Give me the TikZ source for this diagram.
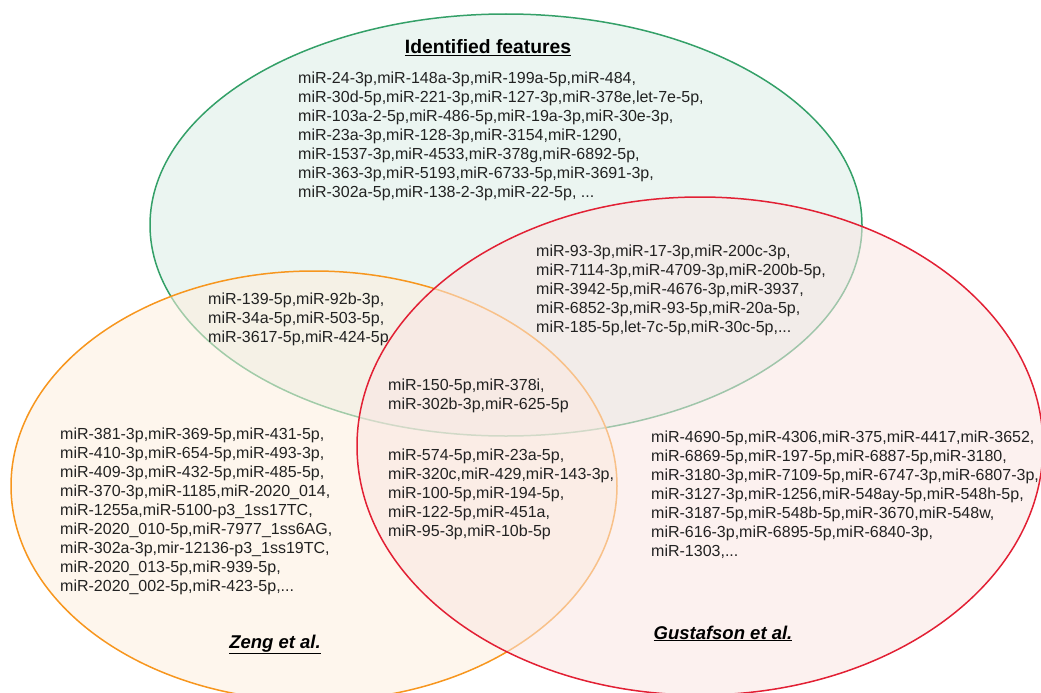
\documentclass[tikz,border=0pt]{standalone}
\usepackage{fontspec}
\setmainfont{Liberation Sans}
\definecolor{vngreen}{RGB}{52,160,104}
\definecolor{vnorange}{RGB}{247,150,30}
\definecolor{vnred}{RGB}{226,32,52}
\definecolor{vngreenfill}{RGB}{218,237,230}
\definecolor{vnorangefill}{RGB}{253,239,222}
\definecolor{vnredfill}{RGB}{249,229,226}
\definecolor{vntext}{RGB}{34,34,34}
\usetikzlibrary{positioning}
\tikzset{
  setfill/.style 2 args={fill=#2, fill opacity=0.55, draw=#1, line width=1.5pt},
  mirlist/.style={font=\fontsize{16}{19}\selectfont, text=vntext, align=left, anchor=north west, inner sep=0pt},
  setlabel/.style={font=\fontsize{18.5}{22}\selectfont\bfseries\itshape, text=black, inner sep=0pt, anchor=base}
}

\begin{document}
\begin{tikzpicture}[x=1pt,y=-1pt]
  \useasboundingbox (0,0) rectangle (1041,693);
  % Identified features
  \filldraw[setfill={vngreen}{vngreenfill}] (506,225) ellipse [x radius=356, y radius=211];
  % Zeng et al.
  \filldraw[setfill={vnorange}{vnorangefill}] (314,486) ellipse [x radius=303, y radius=215];
  % Gustafson et al.
  \filldraw[setfill={vnred}{vnredfill}] (700,446) ellipse [x radius=343, y radius=249];
  % Set titles
  \node[setlabel, font=\fontsize{19.3}{23}\selectfont\bfseries] (idtitle) at (488,54) {\underline{Identified features}};
  \node[setlabel] (zenglabel) at (275,648) {\underline{Zeng et al.}};
  \node[setlabel] (gustlabel) at (723,639) {\underline{Gustafson et al.}};
  % Identified only
  \node[mirlist] (idonly) at (298,72) {miR-24-3p,miR-148a-3p,miR-199a-5p,miR-484,\\
    miR-30d-5p,miR-221-3p,miR-127-3p,miR-378e,let-7e-5p,\\
    miR-103a-2-5p,miR-486-5p,miR-19a-3p,miR-30e-3p,\\
    miR-23a-3p,miR-128-3p,miR-3154,miR-1290,\\
    miR-1537-3p,miR-4533,miR-378g,miR-6892-5p,\\
    miR-363-3p,miR-5193,miR-6733-5p,miR-3691-3p,\\
    miR-302a-5p,miR-138-2-3p,miR-22-5p, ...};
  % Identified and Gustafson
  \node[mirlist] (idgust) at (536,245) {miR-93-3p,miR-17-3p,miR-200c-3p,\\
    miR-7114-3p,miR-4709-3p,miR-200b-5p,\\
    miR-3942-5p,miR-4676-3p,miR-3937,\\
    miR-6852-3p,miR-93-5p,miR-20a-5p,\\
    miR-185-5p,let-7c-5p,miR-30c-5p,...};
  % Identified and Zeng
  \node[mirlist] (idzeng) at (208,293) {miR-139-5p,miR-92b-3p,\\
    miR-34a-5p,miR-503-5p,\\
    miR-3617-5p,miR-424-5p};
  % All three
  \node[mirlist] (allthree) at (388,379) {miR-150-5p,miR-378i,\\
    miR-302b-3p,miR-625-5p};
  % Zeng and Gustafson
  \node[mirlist] (zenggust) at (388,449) {miR-574-5p,miR-23a-5p,\\
    miR-320c,miR-429,miR-143-3p,\\
    miR-100-5p,miR-194-5p,\\
    miR-122-5p,miR-451a,\\
    miR-95-3p,miR-10b-5p};
  % Zeng only
  \node[mirlist] (zengonly) at (60,428) {miR-381-3p,miR-369-5p,miR-431-5p,\\
    miR-410-3p,miR-654-5p,miR-493-3p,\\
    miR-409-3p,miR-432-5p,miR-485-5p,\\
    miR-370-3p,miR-1185,miR-2020\_014,\\
    miR-1255a,miR-5100-p3\_1ss17TC,\\
    miR-2020\_010-5p,miR-7977\_1ss6AG,\\
    miR-302a-3p,mir-12136-p3\_1ss19TC,\\
    miR-2020\_013-5p,miR-939-5p,\\
    miR-2020\_002-5p,miR-423-5p,...};
  % Gustafson only
  \node[mirlist] (gustonly) at (651,431) {miR-4690-5p,miR-4306,miR-375,miR-4417,miR-3652,\\
    miR-6869-5p,miR-197-5p,miR-6887-5p,miR-3180,\\
    miR-3180-3p,miR-7109-5p,miR-6747-3p,miR-6807-3p,\\
    miR-3127-3p,miR-1256,miR-548ay-5p,miR-548h-5p,\\
    miR-3187-5p,miR-548b-5p,miR-3670,miR-548w,\\
    miR-616-3p,miR-6895-5p,miR-6840-3p,\\
    miR-1303,...};
\end{tikzpicture}
\end{document}
